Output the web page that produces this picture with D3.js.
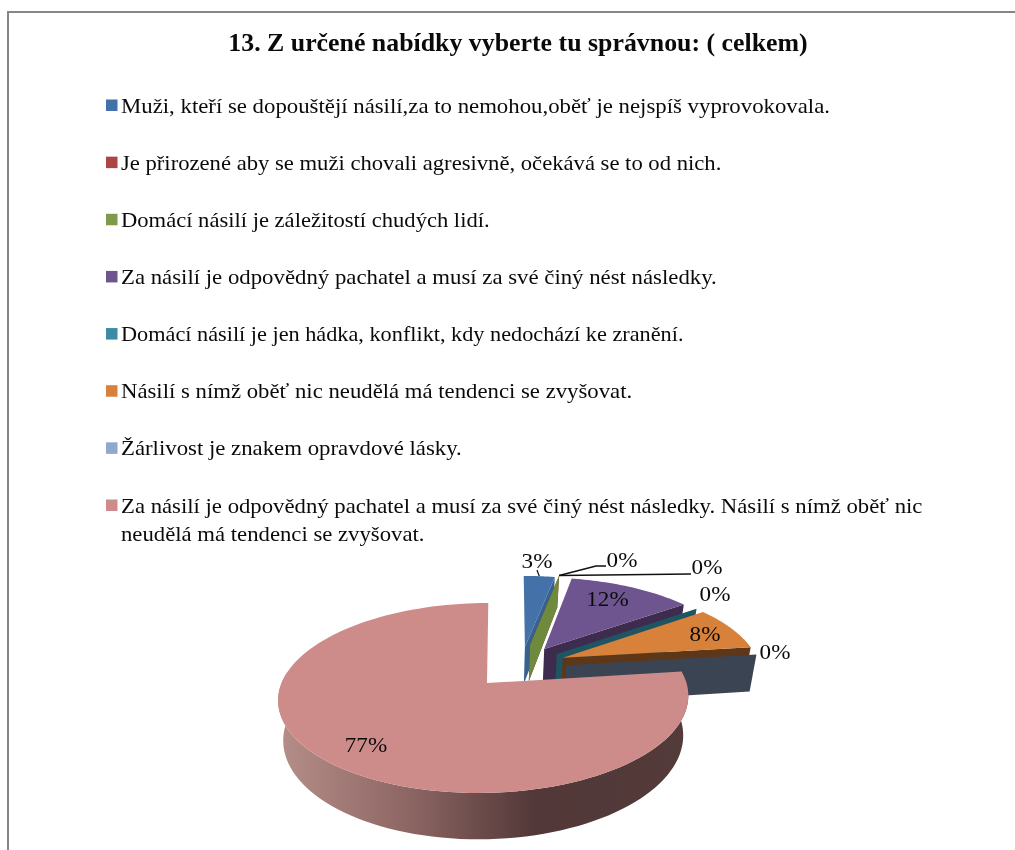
<!DOCTYPE html>
<html><head><meta charset="utf-8">
<script src="https://cdn.jsdelivr.net/npm/d3@7"></script>
<style>html,body{margin:0;padding:0;background:#fff}svg{display:block;filter:blur(.35px)}
text{font-family:"Liberation Serif","Times New Roman",serif;fill:#0a0a0a}</style>
</head><body><svg id="c" width="1015" height="850"></svg>
<script>
const title = "13. Z určené nabídky vyberte tu správnou: ( celkem)";
const categories = [
 ["Muži, kteří se dopouštějí násilí,za to nemohou,oběť je nejspíš vyprovokovala."],
 ["Je přirozené aby se muži chovali agresivně, očekává se to od nich."],
 ["Domácí násilí je záležitostí chudých lidí."],
 ["Za násilí je odpovědný pachatel a musí za své činý nést následky."],
 ["Domácí násilí je jen hádka, konflikt, kdy nedochází ke zranění."],
 ["Násilí s nímž oběť nic neudělá má tendenci se zvyšovat."],
 ["Žárlivost je znakem opravdové lásky."],
 ["Za násilí je odpovědný pachatel a musí za své činý nést následky. Násilí s nímž oběť nic","neudělá má tendenci se zvyšovat."]
];
const values = [3,0,0,12,0,8,0,77];
const legendColors = ["#4472a8","#aa4643","#7f9a48","#6f5590","#3a8ba3","#d8813a","#8fa8d0","#cd8c8a"];
const faceColors = ["#4472a8","#aa4643","#6f8a3d","#6f5590","#1f5562","#d8813a","#39465a","#cd8c8a"];
const wallColors = ["#37618f","#6e2e2c","#6f8a3d","#3e2c4f","#1f5562","#5e3718","#3a4453","#533a39"];

// presentation: exploded offset of each slice in pie-plane units
const explodeX = [.205,.232,.232,.306,.37,.4,.414,0];
const explodeY = [.415,.44,.44,.39,.33,.285,.198,0];
// presentation: label anchor positions (centre x, baseline y)
const labelX = [537,622,707,607.5,715,705,775,366];
const labelY = [568,567,574,606,601,641,659,752];
// presentation: horizontal stretch of each legend row
const rowStretch = [1.085,1.078,1.075,1.085,1.06,1.083,1.085,1.082];

const svg = d3.select("#c");
const X0=484,Y0=683,RX=202.5,RY=92.6,K=0.158,SH=5,H=39,APEX_DX=3;
function project(X,Y,z){
  const w=1+K*Y;
  let sx=X0+(RX*X+SH*Y)/w, sy=Y0-RY*Y/w+(z?H*z/w:0);
  if(z) sx=X0+(sx-X0)*(1-.025*z);
  return [sx,sy];
}
const pt=(i,a,r,z)=>project(explodeX[i]+r*Math.sin(a),explodeY[i]+r*Math.cos(a),z);
const line=d3.line();

// frame
svg.append("path").attr("d",line([[8,850],[8,12],[1015,12]]))
  .attr("fill","none").attr("stroke","#868686").attr("stroke-width",2);

// horizontal stretch of the source raster
function stretch(sel,f){
  sel.each(function(){
    this.setAttribute("textLength",this.getComputedTextLength()*f);
    this.setAttribute("lengthAdjust","spacingAndGlyphs");
  });
}
svg.append("text").attr("x",518).attr("y",51).attr("text-anchor","middle")
  .attr("font-weight","bold").attr("font-size",24.5).text(title).call(stretch,1.055);

// legend
const rowY=d3.scalePoint().domain(d3.range(categories.length)).range([112.5,512.5]);
const lg=svg.append("g").selectAll("g").data(categories).join("g");
lg.append("rect").attr("x",106).attr("y",(d,i)=>rowY(i)-13).attr("width",11.5).attr("height",11.5)
  .attr("fill",(d,i)=>legendColors[i]);
lg.each(function(d,i){
  d3.select(this).selectAll("text").data(d).join("text")
    .attr("x",121).attr("y",(t,j)=>rowY(i)+j*28).attr("font-size",21).text(t=>t).call(stretch,rowStretch[i]);
});

// pie
const defs=svg.append("defs");
const grad=defs.append("linearGradient").attr("id","wall").attr("gradientUnits","userSpaceOnUse")
  .attr("x1",280).attr("x2",690).attr("y1",0).attr("y2",0);
[[0,"#b58e8a"],[.3,"#8f6865"],[.62,"#523838"],[1,"#533b3a"]].forEach(s=>
  grad.append("stop").attr("offset",s[0]).attr("stop-color",s[1]));

const arcs=d3.pie().sort(null).value(d=>d)(values);
const g=svg.append("g");
arcs.forEach((s,i)=>{
  if(i===7) return;
  const a=s.endAngle;
  g.append("path").attr("fill",wallColors[i]).attr("d",line([
    pt(i,a,0,0),pt(i,a,1,0),pt(i,a,1,1),pt(i,a,0,1)])+"Z");
  if(s.value>0){
    const pts=[pt(i,a,0,0),...d3.range(0,41).map(t=>pt(i,s.startAngle+(a-s.startAngle)*t/40,1,0))];
    g.append("path").attr("fill",faceColors[i]).attr("d",line(pts)+"Z");
  }
});
// main slice
{
  const s=arcs[7],i=7;
  const top=d3.range(0,121).map(t=>s.startAngle+(s.endAngle-s.startAngle)*t/120);
  const wallA=top.filter(a=>a<Math.PI*1.55);
  g.append("path").attr("fill","url(#wall)").attr("d",line([
    ...wallA.map(a=>pt(i,a,1,0)),...wallA.slice().reverse().map(a=>pt(i,a,1,1))])+"Z");
  const apex=pt(i,0,0,0); apex[0]+=APEX_DX;
  g.append("path").attr("fill",faceColors[7]).attr("d",line([apex,...top.map(a=>pt(i,a,1,0))])+"Z");
}

// leader lines
const lead=(pts,w)=>svg.append("path").attr("d",line(pts)).attr("fill","none").attr("stroke","#111").attr("stroke-width",w);
lead([pt(0,(arcs[0].startAngle+arcs[0].endAngle)/2,1,0),[537,570]],1.2);
lead([pt(1,arcs[1].endAngle,1,0),[596,566],[606,566]],1.5);
lead([pt(2,arcs[2].endAngle,1,0),[691,574]],1.5);

// labels
svg.append("g").selectAll("text").data(values).join("text")
  .attr("x",(d,i)=>labelX[i]).attr("y",(d,i)=>labelY[i]).attr("text-anchor","middle")
  .attr("font-size",21).text(d=>d+"%").call(stretch,1.1);
</script></body></html>
